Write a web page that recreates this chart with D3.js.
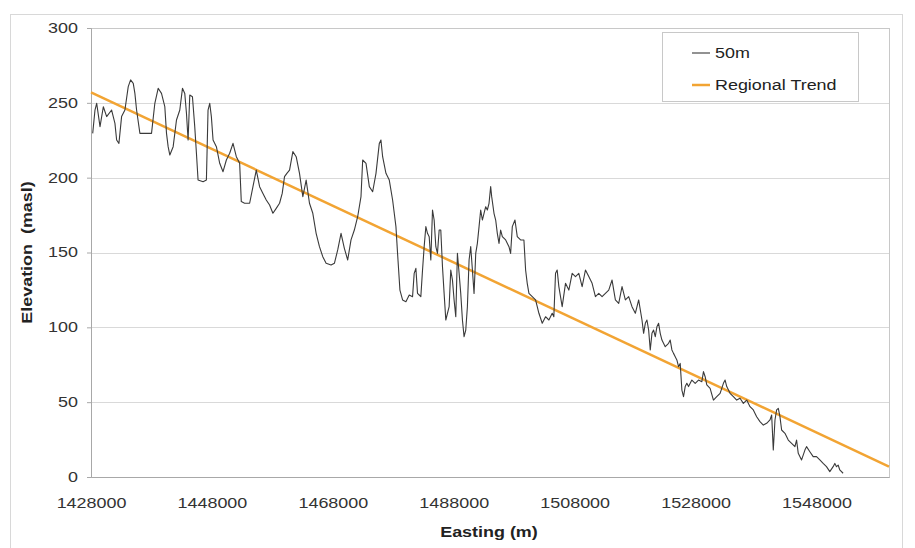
<!DOCTYPE html>
<html>
<head>
<meta charset="utf-8">
<script src="https://cdn.jsdelivr.net/npm/d3@7"></script>
<style>
  body { margin: 0; background: #fff; }
  svg { display: block; font-family: "Liberation Sans", Arial, sans-serif; }
</style>
</head>
<body>
<div id="chart"></div>
<script>
const easting = [
  1428280,1428660,1428940,1429490,1430040,1430590,1431410,1431960,1432240,1432620,
  1433060,1433610,1434160,1434550,1434990,1435260,1435540,1436090,1437190,1438010,
  1438560,1439110,1439660,1440210,1440490,1440760,1441040,1441590,1442140,1442690,
  1443130,1443510,1443790,1444060,1444340,1444780,1445160,1445440,1445710,1446540,
  1447090,1447360,1447640,1447910,1448190,1448740,1449290,1449840,1450390,1450940,
  1451490,1452040,1452590,1452860,1453410,1454240,1454790,1455340,1455890,1456440,
  1456990,1457540,1458090,1458640,1459190,1459630,1460010,1460400,1460840,1461390,
  1461940,1462490,1463040,1463590,1464140,1464690,1465240,1465790,1466340,1466890,
  1467710,1468260,1468810,1469360,1469910,1470460,1471010,1471560,1472110,1472660,
  1472940,1473490,1474040,1474590,1475140,1475690,1475960,1476240,1476790,1477340,
  1477890,1478440,1478710,
  1479100,1479540,1480090,1480640,1481190,1481460,1481740,1482010,1482290,1482560,
  1482840,1483110,1483390,1483660,1483940,1484210,1484490,1484760,1485040,1485310,
  1485590,1485860,1486140,1486410,1486690,1487240,1487510,1487790,1488060,1488340,
  1488610,1488890,1489160,1489440,1489710,1489990,1490260,1490540,
  1490810,1491090,1491360,1491530,1491640,1491910,1492190,1492460,1492740,1493010,
  1493290,1493560,1493840,1494110,1494280,1494660,1494940,1495210,1495490,1495760,
  1496040,1496590,1497140,1497410,1497690,1498130,1498510,1499060,1499610,1499890,
  1500160,1500440,1500990,1501540,1502090,1502640,1503190,1503740,1504290,1504560,
  1504840,1505110,1505390,1505940,1506490,1507040,1507590,1508140,1508690,1509240,
  1509790,1510340,1510890,1511440,1511990,1512540,1513090,1513640,1514190,1514740,
  1515290,1515840,1516390,1516940,1517490,1518040,1518590,
  1519140,1519410,1519690,1519960,1520240,1520510,1520790,1521060,1521340,1521610,
  1521890,1522160,1522440,1522990,1523540,1523810,1524090,1524360,1524640,1524910,
  1525190,1525460,1525740,1526010,1526290,1526560,1526840,1527390,1527940,1528490,
  1529040,1529310,1529590,1529860,1530410,1530960,1531510,1532060,1532610,1532890,
  1533160,1533710,1534260,1534810,1535360,1535910,1536460,1537010,1537560,1538110,
  1538660,1539210,1539760,1540310,1540590,1540860,1541140,1541410,1541690,1541960,
  1542240,1542790,1543340,1543890,1544440,1544710,1544990,1545540,1546090,1546360,
  1546910,1547460,1548010,1548560,1549110,1549660,1550210,1550760,1551040,1551310,
  1551590,1551860,1552410
];

const elevation50m = [
  229.6,245.2,249.7,234.1,247.4,240.8,245.2,236.3,225.2,222.9,
  240.8,245.2,260.8,265.3,263.0,256.3,245.2,229.6,229.6,229.6,
  249.7,259.7,256.3,247.4,229.6,220.7,215.1,220.7,238.5,245.2,
  259.7,256.3,243.0,225.2,255.2,254.1,234.1,216.3,198.4,197.3,
  198.4,245.2,249.7,240.8,225.2,220.7,209.6,204.0,211.8,216.3,
  222.9,214.0,209.6,184.0,182.9,182.9,194.0,205.1,194.0,189.5,
  185.1,181.7,176.2,179.5,182.9,189.5,200.7,202.9,205.1,217.4,
  214.0,202.9,187.3,198.4,182.9,176.2,162.8,153.9,147.2,142.8,
  141.6,142.8,151.7,162.8,152.8,145.0,158.4,165.0,173.9,187.3,
  211.8,209.6,194.0,190.6,202.9,222.9,225.2,214.0,202.9,198.4,
  185.1,167.3,149.4,
  124.9,118.3,117.1,121.6,120.5,136.1,139.4,122.7,121.6,120.5,
  138.3,153.9,167.3,162.8,160.6,145.0,178.4,171.7,153.9,149.4,
  165.0,165.0,140.5,122.7,104.9,113.8,138.3,131.6,118.3,107.1,
  149.4,136.1,122.7,104.9,93.8,98.2,113.8,145.0,
  153.9,138.3,122.7,138.3,149.4,156.1,167.3,178.4,171.7,176.2,
  180.6,178.4,182.9,194.0,187.3,176.2,171.7,162.8,156.1,165.0,
  160.6,158.4,153.9,149.4,167.3,171.7,160.6,158.4,158.4,138.3,
  129.4,122.7,120.5,118.3,109.4,102.7,107.1,104.9,109.4,107.1,
  136.1,138.3,127.2,113.8,129.4,124.9,136.1,133.9,136.1,127.2,
  138.3,133.9,129.4,120.5,122.7,120.5,122.7,124.9,131.6,118.3,
  116.0,127.2,118.3,120.5,113.8,109.4,118.3,
  104.9,96.0,102.7,104.9,98.2,84.9,96.0,98.2,93.8,100.4,
  102.7,96.0,91.5,87.1,89.3,91.5,84.9,82.6,80.4,78.2,
  73.7,75.9,58.1,53.7,60.4,62.6,60.4,64.8,62.6,64.8,
  63.7,70.4,67.0,61.5,59.2,51.4,53.7,55.9,62.6,64.8,
  60.4,55.9,53.7,51.4,52.6,49.2,51.4,47.0,44.8,40.3,
  37.0,34.7,35.9,38.1,41.4,18.0,38.1,44.8,45.9,40.3,
  31.4,29.2,24.7,22.5,20.3,24.7,15.8,11.4,18.0,20.3,
  16.9,13.6,13.6,11.4,9.1,6.9,3.6,6.9,9.1,6.9,
  8.0,4.7,2.5
];

// regional trend end points
const trendEasting = [1428000, 1560000];
const trendElevation = [257, 7];

const xTicks = [1428000, 1448000, 1468000, 1488000, 1508000, 1528000, 1548000];
const yTicks = [0, 50, 100, 150, 200, 250, 300];

const seriesNames = ["50m", "Regional Trend"];
const seriesColors = ["#3a3a3a", "#f2a433"];

//the text in the source is drawn a bit wide
const textStretch = 1.28;

//svg size
const width = 915;
const height = 548;
const margin = { top: 28, right: 26, bottom: 71, left: 91 };
const innerWidth = width - margin.left - margin.right;
const innerHeight = height - margin.top - margin.bottom;

const svg = d3.select("#chart")
  .append("svg")
  .attr("width", width)
  .attr("height", height);

//outer chart border
svg.append("rect")
  .attr("x", 10.5).attr("y", 14.5)
  .attr("width", 892).attr("height", 545)
  .attr("fill", "none")
  .attr("stroke", "#d8d8d8");

const g = svg.append("g")
  .attr("transform", `translate(${margin.left},${margin.top})`);

const x = d3.scaleLinear()
  .domain([1428000, 1560000])
  .range([0, innerWidth]);

const y = d3.scaleLinear()
  .domain([0, 300])
  .range([innerHeight, 0]);

//grid
g.append("g")
  .selectAll("line")
  .data(yTicks)
  .join("line")
  .attr("x1", 0).attr("x2", innerWidth)
  .attr("y1", d => Math.round(y(d)) + 0.5)
  .attr("y2", d => Math.round(y(d)) + 0.5)
  .attr("stroke", "#d9d9d9");

//plot frame
g.append("rect")
  .attr("x", 0.5).attr("y", 0.5)
  .attr("width", innerWidth).attr("height", innerHeight)
  .attr("fill", "none")
  .attr("stroke", "#c8c8c8");

//axes
const xAxis = g.append("g")
  .attr("transform", `translate(0,${innerHeight})`)
  .call(d3.axisBottom(x).tickValues(xTicks).tickFormat(d3.format("d")).tickSizeOuter(0).tickSize(0).tickPadding(21));

const yAxis = g.append("g")
  .call(d3.axisLeft(y).tickValues(yTicks).tickSizeOuter(0).tickSize(4).tickPadding(9));

[xAxis, yAxis].forEach(ax => {
  ax.select(".domain").attr("stroke", "#a8a8a8");
  ax.selectAll(".tick line").attr("stroke", "#a8a8a8");
  ax.selectAll(".tick text")
    .attr("fill", "#333")
    .style("font-size", "14px");
});

//lines
const line = d3.line()
  .x(d => x(d[0]))
  .y(d => y(d[1]));

const profile = easting.map((e, i) => [e, elevation50m[i]]);
const trend = trendEasting.map((e, i) => [e, trendElevation[i]]);

g.append("path")
  .datum(trend)
  .attr("d", line)
  .attr("fill", "none")
  .attr("stroke", seriesColors[1])
  .attr("stroke-width", 2.5);

g.append("path")
  .datum(profile)
  .attr("d", line)
  .attr("fill", "none")
  .attr("stroke", seriesColors[0])
  .attr("stroke-width", 1.1)
  .attr("stroke-linejoin", "round");

//axis titles
svg.append("text")
  .attr("x", 489)
  .attr("y", 537)
  .attr("text-anchor", "middle")
  .style("font-size", "14px")
  .style("font-weight", "bold")
  .attr("fill", "#222")
  .text("Easting (m)");

svg.append("text")
  .attr("transform", `translate(32,${margin.top + innerHeight / 2}) rotate(-90)`)
  .attr("text-anchor", "middle")
  .style("font-size", "14px")
  .style("font-weight", "bold")
  .style("white-space", "pre")
  .attr("fill", "#222")
  .text("Elevation  (masl)");

//legend
const legend = svg.append("g").attr("transform", "translate(662,32)");
legend.append("rect")
  .attr("x", 0.5).attr("y", 0.5)
  .attr("width", 196).attr("height", 69)
  .attr("fill", "#fff")
  .attr("stroke", "#c8c8c8");

const item = legend.selectAll("g.item")
  .data(seriesNames)
  .join("g")
  .attr("class", "item")
  .attr("transform", (d, i) => `translate(0,${21 + i * 32})`);

item.append("line")
  .attr("x1", 30).attr("x2", 48)
  .attr("stroke", (d, i) => seriesColors[i])
  .attr("stroke-width", (d, i) => i === 0 ? 1.1 : 2.5);

item.append("text")
  .attr("x", 53)
  .attr("dy", "0.35em")
  .style("font-size", "14px")
  .attr("fill", "#222")
  .text(d => d);

//widen every label to the proportions of the source
svg.selectAll("text").each(function () {
  const w = this.getComputedTextLength();
  d3.select(this)
    .attr("textLength", w * textStretch)
    .attr("lengthAdjust", "spacingAndGlyphs");
});
</script>
</body>
</html>
